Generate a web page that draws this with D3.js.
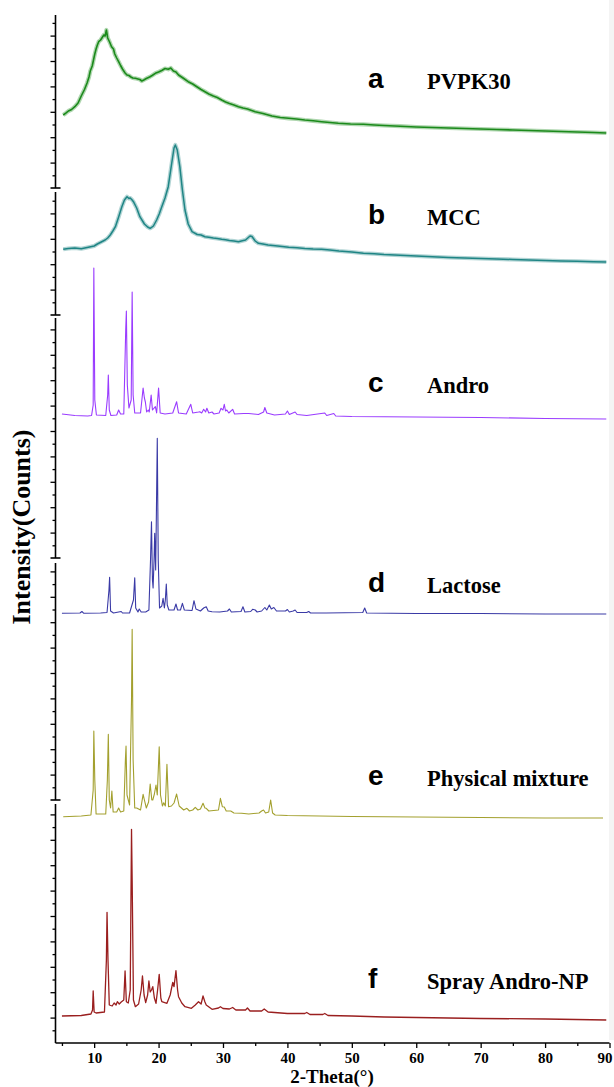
<!DOCTYPE html>
<html>
<head>
<meta charset="utf-8">
<script src="https://cdn.jsdelivr.net/npm/d3@7/dist/d3.min.js"></script>
<style>
html,body{margin:0;padding:0;background:#fff;}
svg{display:block;}
</style>
</head>
<body>
<svg id="chart" width="614" height="1087"></svg>
<script>
// ---------- data (2-Theta in degrees, intensity in arbitrary counts) ----------
const seriesKeys   = ["a", "b", "c", "d", "e", "f"];
const seriesNames  = ["PVPK30", "MCC", "Andro", "Lactose", "Physical mixture", "Spray Andro-NP"];
const xTickLabels  = [10, 20, 30, 40, 50, 60, 70, 80, 90];

const pvpTheta = [5.2,5.6,6,6.5,7,7.5,8,8.5,8.9,9.2,9.4,9.7,9.9,10.1,10.3,10.5,10.7,11,11.2,11.5,11.7,11.9,12.1,12.4,12.7,13,13.2,13.5,13.8,14.1,14.4,14.8,15.1,15.4,15.7,16,16.4,16.8,17.1,17.4,17.7,18.1,18.6,19,19.5,20,20.5,21,21.5,21.9,22.3,22.7,23.1,23.8,24.6,25.3,26,26.6,27.2,27.8,28.5,29.1,29.8,30.4,31,31.7,32.4,33.1,33.8,35,36.2,37.6,38.9,40.2,41.4,42.7,44,45.3,46.6,47.9,49.8,51.8,53.5,55,57.5,60,62.5,65,67.5,70,72.5,75,77.5,80,82.5,85,87.5,89.5];
const pvpCounts = [730,748,770,785,813,850,920,985,1050,1110,1170,1220,1280,1340,1390,1430,1463,1480,1500,1530,1520,1580,1500,1460,1413,1390,1340,1300,1263,1225,1190,1150,1130,1125,1110,1100,1097,1090,1085,1070,1080,1095,1110,1125,1147,1160,1175,1195,1187,1200,1170,1160,1130,1100,1063,1040,1010,985,963,940,920,905,880,860,845,830,813,800,790,763,745,720,705,697,690,680,672,663,655,647,640,637,630,625,618,610,605,600,595,590,585,580,575,570,565,560,555,550];

const mccTheta = [5.2,6,7,8,9.1,10,10.5,11.1,11.7,12.1,12.5,12.9,13.3,13.8,14.3,14.7,15.1,15.4,15.6,15.9,16.1,16.6,17.1,17.8,18.3,18.7,19.2,19.7,20.1,20.5,21,21.5,22,22.4,22.6,22.9,23.3,23.7,24.1,24.6,25.2,26,26.6,27.2,27.8,28.5,29.1,29.8,30.4,31,31.7,32.4,33,33.5,34.2,34.5,35,35.5,36.2,37,38.5,40.2,41.5,42.7,44,45.3,46.6,48,50,51.8,53.5,55,57.5,60,62.5,65,67.5,70,72.5,75,77.5,80,82.5,85,87.5,89.5];
const mccCounts = [657,665,670,662,677,690,710,730,750,770,800,840,883,980,1083,1150,1183,1165,1170,1150,1133,1070,983,910,880,867,890,950,1010,1083,1170,1283,1500,1670,1700,1650,1483,1250,1050,910,833,805,800,783,778,770,765,757,752,745,740,733,742,750,790,785,740,717,710,700,690,677,672,665,660,657,650,640,630,617,612,605,598,590,582,575,570,565,560,555,550,545,540,537,533,530];

const androTheta = [5,7,9,9.6,9.85,9.95,10.1,10.35,11.8,12.1,12.2,12.35,12.6,13.5,13.8,14.1,14.6,14.9,15,15.15,15.4,15.75,15.9,16.05,16.3,17.2,17.6,17.8,17.95,18.15,18.4,18.55,18.85,19.05,19.5,19.7,20,20.25,21,22.2,22.8,23.1,24.3,25,25.3,26.2,26.4,26.7,27,27.3,27.5,27.8,28.3,28.6,29.4,29.7,30,30.2,30.4,30.6,30.9,31.5,31.8,33.2,34,35.5,36.3,36.5,36.8,38,39.7,40,40.3,41.2,41.5,43,45.8,46.1,47.2,47.5,50,60,70,80,89.5];
const androCounts = [160,145,140,145,250,1620,300,150,145,350,550,200,145,150,200,160,160,1000,1190,450,220,300,1380,350,170,170,420,320,280,180,200,180,350,200,233,170,420,170,160,170,283,170,160,257,170,180,183,170,207,180,217,170,180,160,170,217,200,257,190,200,170,207,160,165,165,155,180,225,170,150,160,190,155,180,155,145,170,145,165,140,135,130,125,115,110];

const lactoseTheta = [5,7.8,8.1,8.4,11,12,12.3,12.4,12.55,13,14.2,14.4,15.5,16.1,16.3,16.45,16.8,17,17.3,18,18.5,18.75,18.9,19.05,19.15,19.3,19.4,19.55,19.65,19.8,19.95,20.15,20.5,20.7,20.9,21.05,21.2,21.35,21.6,22.4,22.7,22.95,23.4,23.7,24,25.2,25.5,25.8,26.5,27,27.4,27.7,28.3,29.5,30.7,31,31.3,32.8,33.1,33.4,34.3,34.6,35,35.3,36,36.5,36.8,37.2,37.5,37.9,38.3,39.7,40,40.3,40.9,41.2,41.5,43,43.3,43.6,46,51.7,52,52.3,60,70,80,89.5];
const lactoseCounts = [117,120,135,117,120,125,350,477,140,120,135,120,120,250,473,170,130,160,130,130,150,650,1033,450,370,650,917,550,1050,1867,650,170,190,267,170,250,410,200,150,150,210,150,150,217,150,145,243,160,140,170,183,140,133,130,140,160,130,135,183,130,135,157,150,130,140,175,150,200,160,175,140,140,155,130,140,150,125,125,135,120,120,125,170,120,115,115,110,110];

const mixTheta = [5.2,8,9.5,9.85,9.95,10.1,10.3,11.8,12.05,12.2,12.35,12.55,12.75,12.95,13.5,13.8,14.1,14.6,14.85,14.95,15.1,15.3,15.5,15.8,15.9,16.05,16.3,16.6,17.2,17.6,17.8,18.1,18.45,18.7,18.95,19.1,19.35,19.6,19.8,20.1,20.3,20.6,20.8,21.05,21.3,21.55,22,22.4,22.8,23.2,23.9,24.4,24.8,25.3,25.7,26.1,26.5,26.9,27.2,27.4,27.8,29.3,29.6,29.9,30.2,30.5,31.2,31.7,32.9,34,35.6,36,36.3,36.6,37.1,37.4,37.7,38.1,40,45,50,60,70,80,89];
const mixCounts = [133,140,150,400,990,500,160,160,500,957,300,220,390,180,180,220,180,190,700,840,350,300,250,1300,2007,700,220,220,200,357,300,220,280,460,300,300,360,450,350,833,350,240,273,240,657,233,240,270,360,240,200,217,190,200,227,200,210,267,220,217,190,200,317,233,230,190,190,170,167,160,170,190,200,170,180,300,170,150,145,140,135,130,125,120,120];

const sprayTheta = [5,8,9.5,9.75,9.85,10,10.3,11.6,11.9,12,12.15,12.35,12.8,13.1,13.4,13.6,13.9,14.2,14.6,14.8,15,15.3,15.6,15.75,15.8,15.9,16.1,16.4,16.9,17.3,17.5,17.75,18,18.3,18.5,18.7,18.9,19.1,19.35,19.6,19.85,20.1,20.35,20.5,21.3,21.8,22.2,22.4,22.7,22.95,23.1,23.6,24.1,25.1,25.7,26.2,26.6,26.9,27.2,27.4,28.3,29.3,29.6,30,31,31.5,32,33.5,33.8,34.2,36,36.4,37,38,40,42.7,43,43.5,45.5,45.8,46.3,50,55,60,70,80,89.5];
const sprayCounts = [140,145,160,200,390,180,170,180,700,1177,700,250,240,270,250,283,260,280,300,590,283,270,400,1600,2007,1500,300,233,260,400,540,350,273,350,490,380,400,433,320,267,400,557,320,283,267,350,477,433,593,400,333,270,233,217,250,283,260,340,280,250,207,220,233,215,210,225,200,200,220,190,190,210,180,175,165,165,175,155,155,165,145,140,130,125,115,110,100];

const seriesTheta  = [pvpTheta, mccTheta, androTheta, lactoseTheta, mixTheta, sprayTheta];
const seriesCounts = [pvpCounts, mccCounts, androCounts, lactoseCounts, mixCounts, sprayCounts];

// ---------- layout / style ----------
const colors  = ["#1b8a1b", "#1f8585", "#9a3cff", "#3a3aa6", "#a3a02e", "#9a1f1f"];
const widths  = [1.6, 1.5, 1.1, 1.1, 1.1, 1.3];
const zeroY   = [188, 315, 430, 625, 830, 1030];   // pixel of zero counts per layer
const pxPerCount = 0.1;
const labelY  = [88, 224, 392, 592, 785, 988];
const axisSegs = [[15,188],[192,315],[318,558],[563,800],[804,1043]];

const svg = d3.select("#chart");
const x = d3.scaleLinear().domain([4, 90]).range([55.5, 609.5]);

// faint strip at right edge
svg.append("rect").attr("x", 609).attr("y", 0).attr("width", 5).attr("height", 1040).attr("fill", "#f4f4f4");

// series
seriesKeys.forEach((k, i) => {
  const y = d3.scaleLinear().domain([0, 1000]).range([zeroY[i], zeroY[i] - 1000 * pxPerCount]);
  const pts = seriesTheta[i].map((t, j) => [t, seriesCounts[i][j]]);
  const line = d3.line().x(d => x(d[0])).y(d => y(d[1]));
  if (i < 2) {
    svg.append("path").datum(pts).attr("d", line)
      .attr("fill", "none").attr("stroke", colors[i]).attr("stroke-opacity", 0.35)
      .attr("stroke-width", widths[i] + 2.6).attr("stroke-linejoin", "round");
  }
  svg.append("path").datum(pts).attr("d", line)
    .attr("fill", "none").attr("stroke", colors[i])
    .attr("stroke-width", widths[i]).attr("stroke-linejoin", "round");
});

// labels
seriesKeys.forEach((k, i) => {
  svg.append("text").attr("x", 368).attr("y", labelY[i])
    .attr("font-family", "Liberation Sans, Arial, sans-serif").attr("font-weight", "bold")
    .attr("font-size", 28).attr("fill", "#000").text(k);
  svg.append("text").attr("x", 427).attr("y", labelY[i] + 1)
    .attr("font-family", "Liberation Serif, Times New Roman, serif").attr("font-weight", "bold")
    .attr("font-size", 22.5).attr("fill", "#000").text(seriesNames[i]);
});

// y axis segments
const axisG = svg.append("g");
axisSegs.forEach((seg, si) => {
  const [top, bottom] = seg;
  const ys = d3.scaleLinear().domain([0, (bottom - top) * 10]).range([bottom, top]);
  const maxV = (bottom - top) * 10;
  const majors = d3.range(0, maxV + 1, 254).filter(v => v > 0);
  const minors = d3.range(127, maxV + 1, 254);
  const gMaj = axisG.append("g").attr("transform", "translate(55.5,0)")
    .call(d3.axisLeft(ys).tickValues(majors).tickSize(5).tickFormat(""));
  const gMin = axisG.append("g").attr("transform", "translate(55.5,0)")
    .call(d3.axisLeft(ys).tickValues(minors).tickSize(3).tickFormat(""));
  [gMaj, gMin].forEach(g => {
    g.select(".domain").remove();
    g.selectAll("line").attr("stroke", "#000").attr("stroke-width", 1.3);
  });
  axisG.append("line").attr("x1", 55.5).attr("x2", 55.5).attr("y1", top).attr("y2", bottom)
    .attr("stroke", "#000").attr("stroke-width", 1.6);
  if (si < axisSegs.length - 1) {
    axisG.append("line").attr("x1", 50.5).attr("x2", 60.5).attr("y1", bottom).attr("y2", bottom)
      .attr("stroke", "#000").attr("stroke-width", 1.6);
  }
});

// x axis
const xMaj = svg.append("g").attr("transform", "translate(0,1043)")
  .call(d3.axisBottom(x).tickValues(xTickLabels).tickSize(5).tickPadding(4).tickFormat(d3.format("d")));
const xMin = svg.append("g").attr("transform", "translate(0,1043)")
  .call(d3.axisBottom(x).tickValues(xTickLabels.map(v => v - 5)).tickSize(3).tickFormat(""));
[xMaj, xMin].forEach(g => {
  g.select(".domain").remove();
  g.selectAll("line").attr("stroke", "#000").attr("stroke-width", 1.3);
});
xMaj.selectAll("text").attr("font-family", "Liberation Serif, Times New Roman, serif")
  .attr("font-weight", "bold").attr("font-size", 15).attr("fill", "#000")
  .attr("dx", d => d === 90 ? -5 : 0);
svg.append("line").attr("x1", 55.5).attr("x2", 609.5).attr("y1", 1043).attr("y2", 1043)
  .attr("stroke", "#000").attr("stroke-width", 1.6);

// axis titles
svg.append("text").attr("x", 332).attr("y", 1083).attr("text-anchor", "middle")
  .attr("font-family", "Liberation Serif, Times New Roman, serif").attr("font-weight", "bold")
  .attr("font-size", 19).text("2-Theta(°)");
svg.append("text").attr("transform", "translate(30,527) rotate(-90)").attr("text-anchor", "middle")
  .attr("font-family", "Liberation Serif, Times New Roman, serif").attr("font-weight", "bold")
  .attr("font-size", 26).text("Intensity(Counts)");
</script>
</body>
</html>
